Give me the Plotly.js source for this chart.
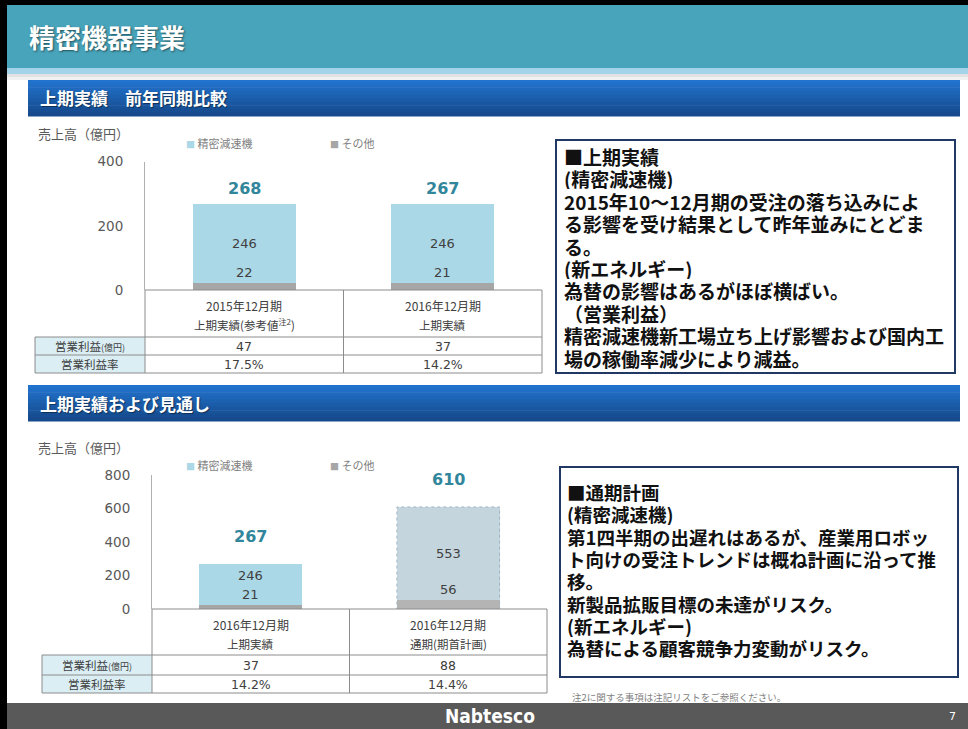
<!DOCTYPE html>
<html>
<head>
<meta charset="utf-8">
<script src="https://cdn.plot.ly/plotly-3.0.1.min.js"></script>
<style>
  html, body { margin: 0; padding: 0; background: #fff; }
  #slide { width: 968px; height: 729px; }
</style>
</head>
<body>
<div id="slide"></div>
<script>
// ========== Data ==========
const seriesNames = ['精密減速機', 'その他'];

// 上期実績 前年同期比較
const catTop1 = ['2015年12月期', '2016年12月期'];
const catSub1 = ['上期実績(参考値<sup>注2</sup>)', '上期実績'];
const reducer1 = [246, 246];
const other1 = [22, 21];
const total1 = [268, 267];
const opProfit1 = [47, 37];
const opMargin1 = [17.5, 14.2];
const ticks1 = [0, 200, 400];

// 上期実績および見通し
const catTop2 = ['2016年12月期', '2016年12月期'];
const catSub2 = ['上期実績', '通期(期首計画)'];
const reducer2 = [246, 553];
const other2 = [21, 56];
const total2 = [267, 610];
const opProfit2 = [37, 88];
const opMargin2 = [14.2, 14.4];
const ticks2 = [0, 200, 400, 600, 800];

const rowLabels = ['営業利益<span style="font-size:9px">(億円)</span>', '営業利益率'];
const yTitle = '売上高（億円）';

const noteLines1 = [
  '■上期実績',
  '(精密減速機)',
  '2015年10～12月期の受注の落ち込みによ',
  'る影響を受け結果として昨年並みにとどま',
  'る。',
  '(新エネルギー)',
  '為替の影響はあるがほぼ横ばい。',
  '（営業利益）',
  '精密減速機新工場立ち上げ影響および国内工',
  '場の稼働率減少により減益。'
];
const noteLines2 = [
  '■通期計画',
  '(精密減速機)',
  '第1四半期の出遅れはあるが、産業用ロボッ',
  'ト向けの受注トレンドは概ね計画に沿って推',
  '移。',
  '新製品拡販目標の未達がリスク。',
  '(新エネルギー)',
  '為替による顧客競争力変動がリスク。'
];

// ========== Styles ==========
const W = 968, H = 729;
const X = v => v / W;
const Y = v => 1 - v / H;

const JP = '"Noto Sans CJK JP", "Noto Sans", sans-serif';
const NUM = '"DejaVu Sans", Verdana, sans-serif';
const BLUE = '#abd8e6';
const GRAY = '#a6a6a6';
const PLAN_BLUE = '#c4d5dd';
const PLAN_GRAY = '#b4b4b4';
const TEAL = '#31869b';
const LINE = '#8c8c8c';

const shapes = [];
const annotations = [];

function rect(x0, y0, x1, y1, fill, line) {
  shapes.push({
    type: 'rect', xref: 'paper', yref: 'paper',
    x0: X(x0), x1: X(x1), y0: Y(y1), y1: Y(y0),
    fillcolor: fill, line: line || { width: 0 }, layer: 'below'
  });
}
function hline(x0, x1, y, color) {
  shapes.push({ type: 'line', xref: 'paper', yref: 'paper',
    x0: X(x0), x1: X(x1), y0: Y(y), y1: Y(y), line: { color: color || LINE, width: 1 } });
}
function text(x, y, t, font, extra) {
  annotations.push(Object.assign({
    xref: 'paper', yref: 'paper', x: X(x), y: Y(y), text: t,
    showarrow: false, xanchor: 'left', yanchor: 'middle', font: font
  }, extra || {}));
}

// gradient-ish section bar made of strips
function sectionBar(y0, y1, title) {
  const top = [33, 114, 205], bot = [22, 74, 140];
  const n = 10, h = (y1 - y0) / n;
  for (let i = 0; i < n; i++) {
    const t = i / (n - 1);
    const c = top.map((v, k) => Math.round(v + (bot[k] - v) * t));
    rect(28, y0 + i * h, 960, y0 + (i + 1) * h + 0.5, `rgb(${c.join(',')})`);
  }
  text(38, (y0 + y1) / 2, title, { family: JP, size: 17, color: '#fff', weight: 'bold',
    shadow: '1px 1px 1px rgba(0,0,0,0.45)' });
}

// ========== Slide frame ==========
rect(0, 0, 968, 68, '#48a4ba');
rect(0, 68, 968, 74, '#a3d4ea');
rect(0, 74, 968, 77, '#e2e2e2');
rect(0, 77, 968, 80, '#f2f2f2');
rect(0, 0, 968, 5, '#000');
rect(0, 0, 7, 729, '#000');
rect(7, 703, 968, 729, '#595959');
text(27, 37, '精密機器事業', { family: JP, size: 26, color: '#fff', weight: 'bold',
  shadow: '1px 1px 2px rgba(0,0,0,0.5)' });
text(490, 716, 'Nabtesco', { family: '"Liberation Sans Narrow", "DejaVu Sans Condensed", sans-serif',
  size: 19, color: '#fff', weight: 'bold' }, { xanchor: 'center' });
text(952, 716, '7', { family: NUM, size: 11, color: '#fff' }, { xanchor: 'center' });
text(570, 697, '注2に関する事項は注記リストをご参照ください。', { family: JP, size: 9.5, color: '#7f7f7f' });

sectionBar(80, 116, '上期実績　前年同期比較');
sectionBar(385, 421, '上期実績および見通し');

// text boxes (one annotation per line, box height = line pitch)
rect(556, 140, 955, 373, '#fff', { color: '#1f3864', width: 2 });
rect(560, 467, 958, 677, '#fff', { color: '#1f3864', width: 2 });
noteLines1.forEach((t, i) =>
  text(562, 156 + i * 22.4, t, { family: JP, size: 19, color: '#111', weight: 'bold' },
    { height: 22, valign: 'middle' }));
noteLines2.forEach((t, i) =>
  text(565, 492 + i * 22.3, t, { family: JP, size: 18.5, color: '#111', weight: 'bold' },
    { height: 22, valign: 'middle' }));

// ========== Charts ==========
const charts = [
  { xa: 'x', ya: 'y', left: 145, right: 542, base: 290, top: 161.6, ymax: 400, ticks: ticks1,
    tableLeft: 35, rows: [290, 337, 355, 373], titleX: 36, titleY: 133, legendY: 143,
    totalShift: 4, plan: -1,
    catTop: catTop1, catSub: catSub1, reducer: reducer1, other: other1, total: total1,
    profit: opProfit1, margin: opMargin1 },
  { xa: 'x2', ya: 'y2', left: 152, right: 547, base: 609, top: 475, ymax: 800, ticks: ticks2,
    tableLeft: 42, rows: [609, 655, 675, 693], titleX: 36, titleY: 447, legendY: 465,
    totalShift: 16, plan: 1,
    catTop: catTop2, catSub: catSub2, reducer: reducer2, other: other2, total: total2,
    profit: opProfit2, margin: opMargin2 }
];

const traces = [];
const layout = {
  width: W, height: H,
  margin: { l: 0, r: 0, t: 0, b: 0 },
  paper_bgcolor: '#fff', plot_bgcolor: 'rgba(0,0,0,0)',
  showlegend: false, barmode: 'stack',
  hovermode: false,
  font: { family: JP }
};

charts.forEach((c, ci) => {
  const cats = c.catTop.map((t, i) => t + ' ' + c.catSub[i].replace(/<[^>]+>/g, ''));
  const isPlan = i => i === c.plan;

  traces.push({
    type: 'bar', x: cats, y: c.other, name: seriesNames[1],
    xaxis: c.xa, yaxis: c.ya, width: 0.52,
    marker: { color: cats.map((_, i) => isPlan(i) ? PLAN_GRAY : GRAY) }
  });
  traces.push({
    type: 'bar', x: cats, y: c.reducer, name: seriesNames[0],
    xaxis: c.xa, yaxis: c.ya, width: 0.52,
    marker: { color: cats.map((_, i) => isPlan(i) ? PLAN_BLUE : BLUE) }
  });

  const axX = ci === 0 ? 'xaxis' : 'xaxis2';
  const axY = ci === 0 ? 'yaxis' : 'yaxis2';
  layout[axX] = {
    domain: [X(c.left), X(c.right)], anchor: c.ya, type: 'category',
    range: [-0.5, 1.5], showticklabels: false, showgrid: false,
    zeroline: false, showline: false, ticks: '', fixedrange: true
  };
  layout[axY] = {
    domain: [Y(c.base), Y(c.top)], anchor: c.xa, range: [0, c.ymax],
    tickvals: c.ticks, ticks: '', showgrid: false, zeroline: false,
    showline: true, linecolor: '#b0b0b0', linewidth: 1,
    ticklabelstandoff: 18, tickfont: { family: NUM, size: 13.5, color: '#595959' },
    fixedrange: true
  };

  const xref = c.xa, yref = c.ya;
  const pxPerUnit = (c.base - c.top) / c.ymax;
  const r = c.rows;

  cats.forEach((cat, i) => {
    // totals above bars
    annotations.push({ xref, yref, x: cat, y: c.total[i], text: String(c.total[i]),
      showarrow: false, yanchor: 'bottom', yshift: c.totalShift,
      font: { family: NUM, size: 16, color: TEAL, weight: 'bold' } });
    // その他 value
    annotations.push({ xref, yref, x: cat, y: c.other[i], text: String(c.other[i]),
      showarrow: false, yanchor: 'bottom', yshift: 1,
      font: { family: NUM, size: 13, color: '#404040' } });
    // 精密減速機 value
    const segPx = c.reducer[i] * pxPerUnit;
    const tall = segPx > 60;
    annotations.push({ xref, yref, x: cat,
      y: tall ? c.other[i] + c.reducer[i] / 2 : c.other[i] + c.reducer[i],
      yanchor: tall ? 'middle' : 'top', yshift: tall ? 0 : -2,
      text: String(c.reducer[i]), showarrow: false,
      font: { family: NUM, size: 13, color: '#404040' } });

    // table cells
    const cell = (y, t, font) => annotations.push({ xref, yref: 'paper', x: cat, y: Y(y),
      text: t, showarrow: false, xanchor: 'center', yanchor: 'middle', font });
    cell(r[0] + 15, c.catTop[i], { family: JP, size: 12, color: '#404040' });
    cell(r[0] + 35, c.catSub[i], { family: JP, size: 11.5, color: '#404040' });
    cell((r[1] + r[2]) / 2, String(c.profit[i]), { family: NUM, size: 12.5, color: '#404040' });
    cell((r[2] + r[3]) / 2, c.margin[i].toFixed(1) + '%', { family: NUM, size: 12.5, color: '#404040' });

    // dotted outline on plan bar
    if (isPlan(i)) {
      shapes.push({ type: 'rect', xref, yref, x0: i - 0.26, x1: i + 0.26,
        y0: 0, y1: c.reducer[i] + c.other[i],
        line: { color: '#9fb6c4', width: 1, dash: 'dot' } });
    }
  });

  // table grid
  rect(c.tableLeft, r[1], c.left, r[3], '#dbeef4');
  hline(c.left, c.right, r[0]);
  hline(c.tableLeft, c.right, r[1]);
  hline(c.tableLeft, c.right, r[2]);
  hline(c.tableLeft, c.right, r[3]);
  [c.tableLeft, c.left, c.right].forEach((vx, k) => {
    shapes.push({ type: 'line', xref: 'paper', yref: 'paper', x0: X(vx), x1: X(vx),
      y0: Y(k === 0 ? r[1] : r[0]), y1: Y(r[3]), line: { color: LINE, width: 1 } });
  });
  shapes.push({ type: 'line', xref, yref: 'paper', x0: 0.5, x1: 0.5,
    y0: Y(r[0]), y1: Y(r[3]), line: { color: LINE, width: 1 } });
  rowLabels.forEach((lab, k) => {
    text((c.tableLeft + c.left) / 2, (r[k + 1] + r[k + 2]) / 2, lab,
      { family: JP, size: 11.5, color: '#404040' }, { xanchor: 'center' });
  });

  // axis title + legend
  text(c.titleX, c.titleY, yTitle, { family: JP, size: 13, color: '#595959' });
  const legendX = [184, 328];
  [0, 1].forEach(k => {
    const col = k === 0 ? BLUE : GRAY;
    text(legendX[k], c.legendY,
      `<span style="color:${col};font-size:9px">■</span> ${seriesNames[k]}`,
      { family: JP, size: 11, color: '#7f7f7f' });
  });
});

layout.shapes = shapes;
layout.annotations = annotations;

Plotly.newPlot('slide', traces, layout, { displayModeBar: false, staticPlot: true });
</script>
</body>
</html>
